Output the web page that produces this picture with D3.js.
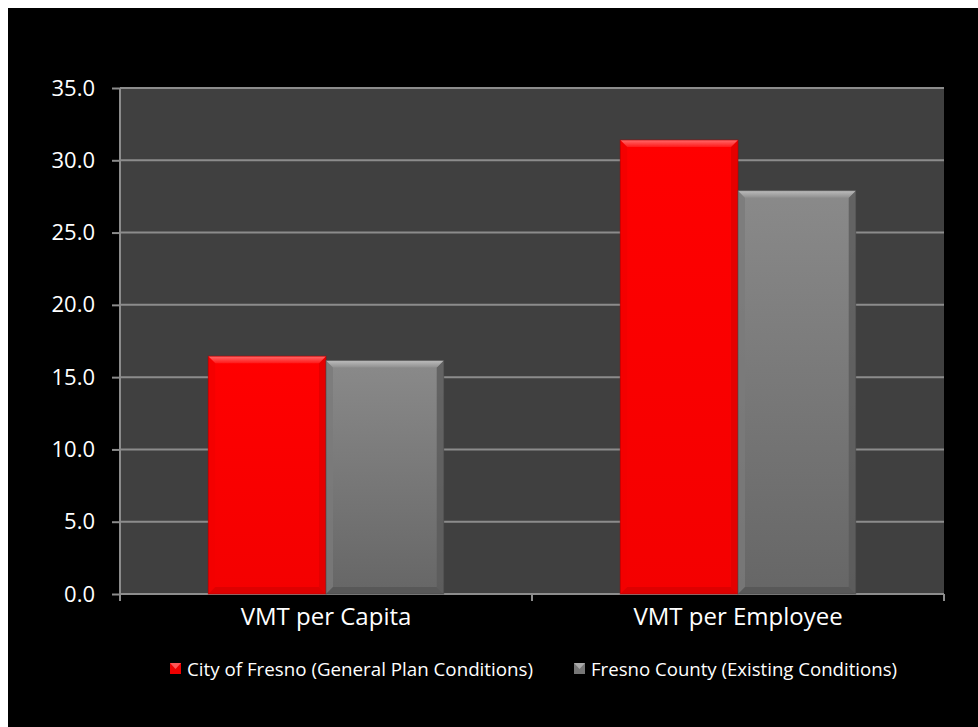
<!DOCTYPE html>
<html><head><meta charset="utf-8">
<script src="https://cdn.jsdelivr.net/npm/d3@7"></script>
<style>body{margin:0;background:#fff;}svg{display:block;}</style>
</head><body>
<svg id="chart" width="978" height="727"></svg>
<script>
const categories = ["VMT per Capita", "VMT per Employee"];
const seriesNames = ["City of Fresno (General Plan Conditions)", "Fresno County (Existing Conditions)"];
const cityValues = [16.45, 31.4];
const countyValues = [16.15, 27.9];
const yTicks = [0, 5, 10, 15, 20, 25, 30, 35];

const svg = d3.select("#chart");
svg.append("rect").attr("x", 8).attr("y", 8).attr("width", 970).attr("height", 719).attr("fill", "#000");

const plot = {left: 120, right: 944, top: 88, bottom: 594};
const x0 = d3.scaleBand().domain(categories).range([plot.left, plot.right]).paddingInner(0).paddingOuter(0);
const x1 = d3.scaleBand().domain(seriesNames).range([0, x0.bandwidth()]).paddingInner(0).paddingOuter(0.75);
const y = d3.scaleLinear().domain([0, 35]).range([plot.bottom, plot.top]);

// defs
const defs = svg.append("defs");
function lg(id, stops, vertical) {
  const g = defs.append("linearGradient").attr("id", id)
    .attr("x1", 0).attr("y1", 0).attr("x2", vertical ? 0 : 1).attr("y2", vertical ? 1 : 0);
  stops.forEach(s => g.append("stop").attr("offset", s[0]).attr("stop-color", s[1]));
}
lg("redBody", [[0, "#ff0000"], [1, "#f40000"]], true);
lg("greyBody", [[0, "#8a8a8a"], [1, "#666666"]], true);
lg("redTop", [[0, "#ff6a6a"], [1, "#ff1a1a"]], true);
lg("greyTop", [[0, "#bdbdbd"], [1, "#909090"]], true);

// plot bg
svg.append("rect").attr("x", plot.left).attr("y", plot.top)
  .attr("width", plot.right - plot.left).attr("height", plot.bottom - plot.top).attr("fill", "#404040");

// gridlines
svg.append("g").selectAll("line").data(yTicks.filter(d => d > 0)).join("line")
  .attr("x1", plot.left).attr("x2", plot.right)
  .attr("y1", d => y(d)).attr("y2", d => y(d))
  .attr("stroke", "#8c8c8c").attr("stroke-width", 2);

// y axis
const yAxis = svg.append("g").attr("transform", `translate(${plot.left},0)`)
  .call(d3.axisLeft(y).tickValues(yTicks).tickFormat(d3.format(".1f")).tickSize(8).tickPadding(17));
yAxis.select(".domain").attr("stroke", "#8c8c8c").attr("stroke-width", 2).attr("d", `M0,${plot.top}V${plot.bottom}`);
yAxis.selectAll(".tick line").attr("stroke", "#8c8c8c").attr("stroke-width", 2);
yAxis.selectAll(".tick text").attr("fill", "#fff").attr("font-family", "Open Sans").attr("font-size", 22);

// x axis
const xAxis = svg.append("g").attr("transform", `translate(0,${plot.bottom})`)
  .call(d3.axisBottom(x0).tickSize(0).tickPadding(13));
xAxis.select(".domain").attr("stroke", "#8c8c8c").attr("stroke-width", 2).attr("d", `M${plot.left},0H${plot.right}`);
xAxis.selectAll(".tick text").attr("fill", "#fff").attr("font-family", "Open Sans").attr("font-size", 24)
  .attr("dy", "0.75em");
// category boundary ticks
const bounds = [plot.left].concat(categories.map(c => x0(c) + x0.bandwidth()));
xAxis.append("g").selectAll("line").data(bounds).join("line")
  .attr("x1", d => d).attr("x2", d => d).attr("y1", 0).attr("y2", 7)
  .attr("stroke", "#8c8c8c").attr("stroke-width", 2);

// bars
const data = [];
categories.forEach((c, i) => {
  data.push({cat: c, s: seriesNames[0], v: cityValues[i], kind: "red"});
  data.push({cat: c, s: seriesNames[1], v: countyValues[i], kind: "grey"});
});
const bw = x1.bandwidth();
const bars = svg.append("g").selectAll("g").data(data).join("g")
  .attr("transform", d => `translate(${x0(d.cat) + x1(d.s)},${y(d.v)})`);
bars.each(function(d) {
  const g = d3.select(this);
  const h = y(0) - y(d.v);
  const b = 7;
  g.append("rect").attr("width", bw).attr("height", h).attr("fill", d.kind === "red" ? "url(#redBody)" : "url(#greyBody)");
  // left/right bevel
  g.append("path").attr("d", `M0,0L${b},${b}L${b},${h - b}L0,${h}Z`)
    .attr("fill", d.kind === "red" ? "#f20000" : "#7a7a7a").attr("opacity", 0.8);
  g.append("path").attr("d", `M${bw},0L${bw - b},${b}L${bw - b},${h - b}L${bw},${h}Z`)
    .attr("fill", d.kind === "red" ? "#e00000" : "#5a5a5a").attr("opacity", 0.8);
  // bottom bevel
  g.append("path").attr("d", `M0,${h}L${b},${h - b}L${bw - b},${h - b}L${bw},${h}Z`)
    .attr("fill", d.kind === "red" ? "#d80000" : "#555555").attr("opacity", 0.8);
  // top bevel
  g.append("path").attr("d", `M0,0L${bw},0L${bw - b},${b}L${b},${b}Z`)
    .attr("fill", d.kind === "red" ? "url(#redTop)" : "url(#greyTop)");
  g.append("rect").attr("width", bw).attr("height", h).attr("fill", "none")
    .attr("stroke", d.kind === "red" ? "#b00000" : "#4a4a4a").attr("stroke-width", 1).attr("opacity", 0.6);
});

// legend
const legend = svg.append("g");
const legItems = [
  {name: seriesNames[0], kind: "red", sx: 170, tx: 187, w: 346},
  {name: seriesNames[1], kind: "grey", sx: 574, tx: 591, w: 306}
];
legItems.forEach(it => {
  const g = legend.append("g");
  g.append("rect").attr("x", it.sx).attr("y", 663).attr("width", 11).attr("height", 11)
    .attr("fill", it.kind === "red" ? "#ee0000" : "#777");
  g.append("path").attr("d", `M${it.sx},663L${it.sx + 11},663L${it.sx + 5.5},669Z`)
    .attr("fill", it.kind === "red" ? "#ff5555" : "#aaa");
  g.append("text").attr("x", it.tx).attr("y", 676).text(it.name)
    .attr("fill", "#fff").attr("font-family", "Open Sans").attr("font-size", 18.5)
    .attr("textLength", it.w).attr("lengthAdjust", "spacingAndGlyphs");
});
</script>
</body></html>
